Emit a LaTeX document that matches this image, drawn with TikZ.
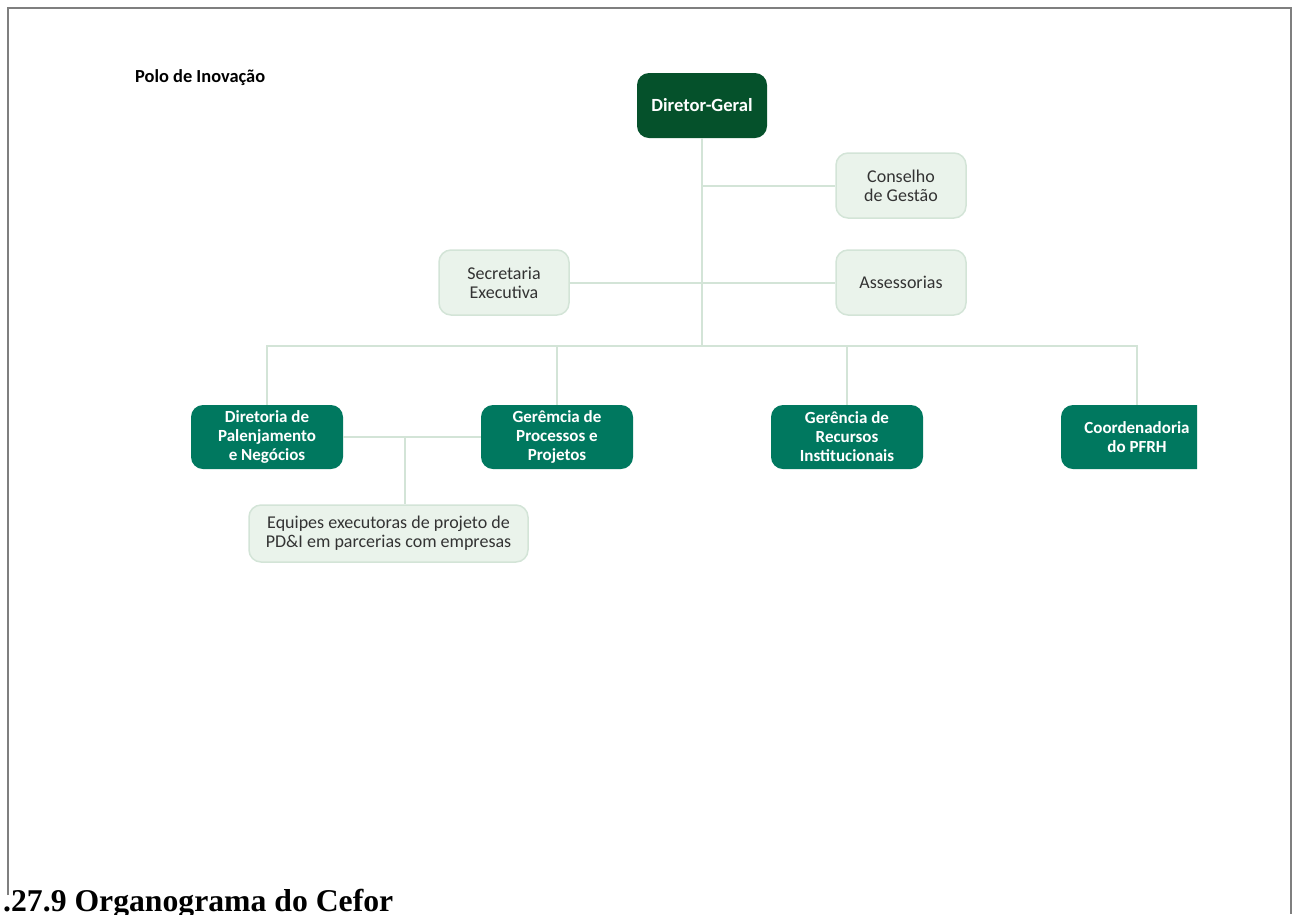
\documentclass[tikz,border=0pt]{standalone}
\usepackage{fontspec}
\setmainfont{Carlito}
\newfontfamily\titlefont{Liberation Serif}

\definecolor{dgreen}{HTML}{05512B}
\definecolor{tgreen}{HTML}{00785F}
\definecolor{lgreen}{HTML}{EAF3EB}
\definecolor{lline}{HTML}{D3E4D7}
\definecolor{frame}{HTML}{7F7F7F}

\begin{document}
\begin{tikzpicture}[x=1pt,y=-1pt,
  head node/.style={rectangle,rounded corners=12pt,fill=dgreen,text=white,minimum width=130pt,minimum height=65pt,inner sep=0pt,font=\bfseries\fontsize{18.6}{21}\selectfont,align=center},
  unit node/.style={rectangle,rounded corners=12pt,fill=tgreen,text=white,minimum width=152pt,minimum height=64pt,inner sep=0pt,font=\bfseries\fontsize{17}{19}\selectfont,align=center},
  staff node/.style={rectangle,rounded corners=12pt,fill=lgreen,draw=lline,line width=1.5pt,text=black!80,minimum width=130pt,minimum height=65pt,inner sep=0pt,font=\fontsize{18}{19}\selectfont,align=center}]

  \useasboundingbox (0,0) rectangle (1298,914);
  \draw[frame,line width=2pt] (8,895) -- (8,8) -- (1291,8) -- (1291,914);

  \node[anchor=west,inner sep=0pt,font=\bfseries\fontsize{18.4}{21}\selectfont] (polo) at (135,78) {Polo de Inovação};

  \node[head node] (dg) at (702,105.5) {Diretor-Geral};
  \node[staff node] (cons) at (901,185.5) {Conselho\\de Gestão};
  \node[staff node] (sec) at (504,282.5) {Secretaria\\Executiva};
  \node[staff node] (ass) at (901,282.5) {Assessorias};

  \node[unit node] (dpn) at (267,437) {Diretoria de\\Palenjamento\\e Negócios};
  \node[unit node] (gpp) at (557,437) {Gerêmcia de\\Processos e\\Projetos};
  \node[unit node] (gri) at (847,437) {Gerência de\\Recursos\\Institucionais};
  \begin{scope}
    \clip (0,0) rectangle (1197,914);
    \node[unit node] (cpf) at (1137,437) {Coordenadoria\\do PFRH};
  \end{scope}

  \node[staff node,minimum width=279pt,minimum height=57pt] (eq) at (388.5,533.5) {Equipes executoras de projeto de\\PD\&I em parcerias com empresas};

  \coordinate (bus) at (702,346);
  \coordinate (jn) at (405,437);

  \path[draw=lline,line width=2pt]
    (dg) -- (bus)
    (dg) |- (cons)
    (sec) -- (ass)
    (bus) -| (dpn)
    (bus) -| (gpp)
    (bus) -| (gri)
    (bus) -| (cpf)
    (dpn) -- (gpp)
    (jn) -- (jn |- eq.north)
    ;

  \node[anchor=base west,inner sep=0pt,font=\titlefont\bfseries\fontsize{31.7}{36}\selectfont] (title) at (3,911) {.27.9 Organograma do Cefor};
\end{tikzpicture}
\end{document}
